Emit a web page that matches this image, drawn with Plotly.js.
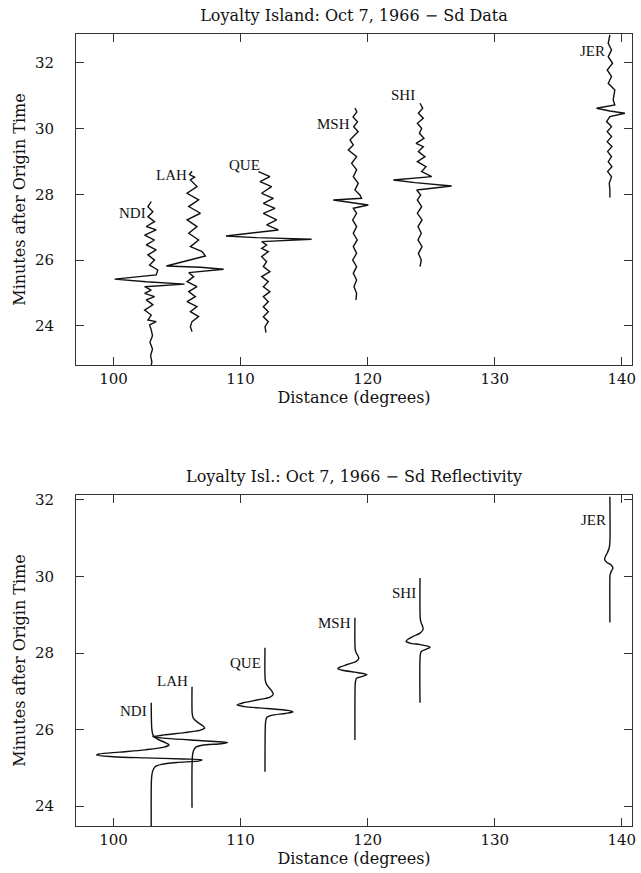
<!DOCTYPE html>
<html>
<head>
<meta charset="utf-8">
<script src="https://cdn.plot.ly/plotly-3.0.1.min.js"></script>
<style>html,body{margin:0;padding:0;background:#fff;}#chart{width:641px;height:873px;}</style>
</head>
<body>
<div id="chart"></div>
<script>
// ---------- data ----------
const stations = ['NDI', 'LAH', 'QUE', 'MSH', 'SHI', 'JER'];
const stationDist = [102.97, 106.18, 111.92, 119.0, 124.12, 139.06];   // degrees
const xTicks = [100, 110, 120, 130, 140];

// label times (minutes) for station names
const labelTimeData = [27.43, 28.58, 28.89, 30.14, 31.02, 32.36];
const labelTimeSynth = [26.49, 27.27, 27.74, 28.79, 29.57, 31.48];

// observed Sd traces: time (min) and deflection (deg)
const ndiT = [27.78,27.62,27.47,27.32,27.17,27.02,26.92,26.76,26.61,26.46,26.31,26.16,26.00,25.85,25.70,25.55,25.42,25.34,25.27,25.19,25.09,24.99,24.89,24.79,24.64,24.48,24.33,24.18,24.13,24.03,23.88,23.70,23.50,23.30,23.10,22.90,22.80];
const ndiA = [0,-0.26,0.13,-0.26,0.26,-0.39,0.39,-0.52,0.26,-0.39,0.39,-0.26,0.26,-0.13,0.52,0.39,-2.88,-0.39,2.62,-0.52,0,-0.52,0.26,-0.39,0.13,-0.52,0,-0.26,0.39,-0.13,0,0.1,-0.1,0.1,-0.05,0.05,0];
const lahT = [28.70,28.60,28.52,28.435,28.232,28.03,27.83,27.626,27.423,27.22,27.018,26.815,26.61,26.41,26.257,26.125,25.82,25.78,25.72,25.618,25.497,25.345,25.193,25.04,24.89,24.737,24.585,24.433,24.28,24.13,23.977,23.825];
const lahA = [0,-0.2,0.2,-0.13,0.39,-0.39,0.52,-0.26,0.66,-0.39,0.39,-0.26,0.52,-0.13,0.79,1.05,-2.02,0.66,2.49,-0.26,0.13,-0.39,0.39,-0.26,0.26,-0.39,0.39,-0.13,0.52,0,-0.13,0];
const queT = [28.688,28.536,28.384,28.232,28.03,27.877,27.725,27.574,27.42,27.219,27.067,26.915,26.733,26.682,26.631,26.56,26.459,26.358,26.256,26.104,25.952,25.8,25.648,25.496,25.344,25.19,25.04,24.888,24.737,24.585,24.433,24.28,24.128,23.977,23.794];
const queA = [-0.52,0.39,-0.39,0.52,-0.26,0.66,-0.13,0.79,-0.13,0.92,0.13,1.05,-3.07,-0.66,3.67,-0.26,0.13,-0.26,0.26,-0.26,0.13,-0.13,0.39,-0.26,0.26,-0.13,0.39,-0.13,0.26,-0.13,0.26,-0.13,0.26,0,0.08];
const mshT = [30.62,30.5,30.35,30.2,30.05,29.9,29.75,29.65,29.5,29.346,29.144,28.94,28.74,28.536,28.333,28.13,27.98,27.877,27.826,27.745,27.674,27.574,27.42,27.219,27.016,26.813,26.611,26.408,26.205,26.003,25.8,25.597,25.395,25.19,24.99,24.787];
const mshA = [0,0.15,-0.15,0.2,-0.1,0.25,-0.15,-0.39,-0.13,-0.52,0.13,-0.26,0.13,-0.13,0.26,0,0.39,0.52,-1.70,-0.13,1.05,-0.13,0.13,-0.18,0.13,-0.13,0.18,-0.13,0.13,-0.18,0.13,-0.13,0.13,-0.08,0.13,0.08];
const shiT = [30.765,30.613,30.461,30.309,30.157,30.005,29.853,29.701,29.549,29.448,29.296,29.144,28.992,28.84,28.688,28.536,28.435,28.354,28.252,28.131,27.979,27.827,27.624,27.422,27.219,27.016,26.814,26.611,26.408,26.206,26.003,25.8];
const shiA = [0,0.21,-0.13,0.26,-0.21,0.13,-0.05,0.31,-0.31,0.26,-0.13,0.39,-0.21,0.47,0.13,0.92,-2.10,-0.39,2.49,-0.26,0.05,-0.21,0.13,-0.21,0.16,-0.16,0.10,-0.16,0.16,-0.13,0.10,0];
const jerT = [32.842,32.589,32.386,32.183,31.98,31.778,31.575,31.373,31.17,30.866,30.714,30.613,30.532,30.461,30.36,30.208,30.056,29.904,29.752,29.6,29.448,29.296,29.144,28.992,28.84,28.688,28.536,28.333,28.131,27.9];
const jerA = [0,-0.13,0.13,-0.13,0.21,-0.21,0.13,-0.13,0.39,0.26,0.39,-1.05,0,1.18,0,-0.26,0.13,-0.21,0.13,-0.21,0.16,-0.18,0.13,-0.13,0.16,-0.18,0.13,-0.05,0,0];

// reflectivity synthetics: time (min) and deflection (deg)
const ndiSynT = [26.70,26.00,25.85,25.75,25.66,25.60,25.54,25.47,25.41,25.36,25.33,25.29,25.26,25.23,25.21,25.18,25.14,25.09,25.03,24.90,24.70,23.45];
const ndiSynA = [0,0.05,0.15,0.5,1.1,1.4,1.0,-0.5,-2.5,-4.1,-4.3,-3.0,-0.5,2.5,4.0,3.8,2.0,0.8,0.3,0.1,0.02,0];
const lahSynT = [27.12,26.40,26.30,26.20,26.10,26.04,25.98,25.92,25.86,25.81,25.77,25.72,25.68,25.66,25.63,25.59,25.54,25.45,25.30,23.96];
const lahSynA = [0,0.02,0.1,0.4,0.85,1.0,0.6,-0.6,-2.2,-3.1,-2.0,0.2,2.2,2.8,2.3,0.8,0.3,0.12,0.03,0];
const queSynT = [28.14,27.30,27.20,27.10,27.00,26.92,26.85,26.78,26.70,26.64,26.60,26.55,26.50,26.46,26.42,26.37,26.32,26.20,26.00,24.90];
const queSynA = [0,0.02,0.1,0.3,0.55,0.65,0.4,-0.5,-1.7,-2.2,-1.6,0.2,1.8,2.2,1.6,0.5,0.15,0.05,0.02,0];
const mshSynT = [28.92,28.10,28.00,27.92,27.86,27.78,27.70,27.63,27.59,27.55,27.50,27.46,27.43,27.39,27.34,27.25,27.10,25.73];
const mshSynA = [0,0.02,0.1,0.25,0.3,0.1,-0.6,-1.2,-1.35,-1.0,0.0,0.7,0.95,0.6,0.12,0.04,0.01,0];
const shiSynT = [29.96,28.90,28.80,28.70,28.61,28.52,28.44,28.36,28.30,28.26,28.22,28.18,28.15,28.10,28.04,27.95,26.70];
const shiSynA = [0,0.02,0.08,0.2,0.24,0.0,-0.5,-0.95,-1.1,-0.8,0.0,0.6,0.8,0.5,0.1,0.02,0];
const jerSynT = [32.08,30.90,30.75,30.62,30.50,30.43,30.36,30.30,30.22,30.14,30.05,29.95,28.80];
const jerSynA = [0,0.0,-0.05,-0.2,-0.38,-0.4,-0.2,0.1,0.24,0.12,0.02,0,0];

// ---------- build ----------
const dataSets = [[ndiT, ndiA], [lahT, lahA], [queT, queA], [mshT, mshA], [shiT, shiA], [jerT, jerA]];
const synSets = [[ndiSynT, ndiSynA], [lahSynT, lahSynA], [queSynT, queSynA], [mshSynT, mshSynA], [shiSynT, shiSynA], [jerSynT, jerSynA]];

const serif = 'DejaVu Serif, serif';
const ink = '#111';
const traces = [];
dataSets.forEach(([t, a], i) => {
  traces.push({
    type: 'scatter', mode: 'lines', name: stations[i] + ' data',
    x: a.map(v => stationDist[i] + v), y: t,
    xaxis: 'x', yaxis: 'y',
    line: {color: ink, width: 1.4, shape: 'linear'},
    hoverinfo: 'skip', showlegend: false
  });
});
synSets.forEach(([t, a], i) => {
  traces.push({
    type: 'scatter', mode: 'lines', name: stations[i] + ' synthetic',
    x: a.map(v => stationDist[i] + v), y: t,
    xaxis: 'x2', yaxis: 'y2',
    line: {color: ink, width: 1.4, shape: 'spline', smoothing: 0.8},
    hoverinfo: 'skip', showlegend: false
  });
});

const annotations = [];
stations.forEach((s, i) => {
  annotations.push({xref: 'x', yref: 'y', x: stationDist[i], y: labelTimeData[i], text: s,
    showarrow: false, xanchor: 'right', yanchor: 'middle', xshift: -3,
    font: {family: 'Liberation Serif, serif', size: 15, color: ink}});
  annotations.push({xref: 'x2', yref: 'y2', x: stationDist[i], y: labelTimeSynth[i], text: s,
    showarrow: false, xanchor: 'right', yanchor: 'middle', xshift: -2,
    font: {family: 'Liberation Serif, serif', size: 15, color: ink}});
});
annotations.push({xref: 'paper', yref: 'paper', x: 0.5, y: 0.4419, xanchor: 'center', yanchor: 'middle',
  text: 'Loyalty Isl.: Oct 7, 1966 \u2212 Sd Reflectivity', showarrow: false,
  font: {family: serif, size: 16, color: ink}});

const xAxisBase = {
  range: [97.05, 140.8], tickvals: xTicks, ticks: 'inside', ticklen: 8, tickcolor: '#333',
  mirror: 'ticks', showline: true, linecolor: '#333', linewidth: 1,
  showgrid: false, zeroline: false, tickfont: {family: serif, size: 15, color: ink},
  title: {text: 'Distance (degrees)', font: {family: serif, size: 16, color: ink}, standoff: 1}
};
const yAxisBase = {
  dtick: 2, tick0: 0, ticks: 'inside', ticklen: 8, tickcolor: '#333',
  mirror: 'ticks', showline: true, linecolor: '#333', linewidth: 1,
  showgrid: false, zeroline: false, tickfont: {family: serif, size: 15, color: ink},
  ticklabelstandoff: 18,
  title: {text: 'Minutes after Origin Time', font: {family: serif, size: 16, color: ink}, standoff: 5}
};

const layout = {
  width: 641, height: 873,
  margin: {l: 76, r: 9, t: 34, b: 47},
  paper_bgcolor: '#fff', plot_bgcolor: '#fff',
  title: {text: 'Loyalty Island: Oct 7, 1966 \u2212 Sd Data', font: {family: serif, size: 16, color: ink},
    x: 0.5, xref: 'paper', y: 1 - 15 / 873, yref: 'container', yanchor: 'middle'},
  xaxis: Object.assign({}, xAxisBase, {domain: [0, 1], anchor: 'y'}),
  yaxis: Object.assign({}, yAxisBase, {domain: [0.582, 1], range: [22.81, 32.87], anchor: 'x'}),
  xaxis2: Object.assign({}, xAxisBase, {domain: [0, 1], anchor: 'y2'}),
  yaxis2: Object.assign({}, yAxisBase, {domain: [0, 0.418], range: [23.48, 32.13], anchor: 'x2'}),
  annotations: annotations,
  showlegend: false
};

Plotly.newPlot('chart', traces, layout, {staticPlot: true, displayModeBar: false});
</script>
</body>
</html>
